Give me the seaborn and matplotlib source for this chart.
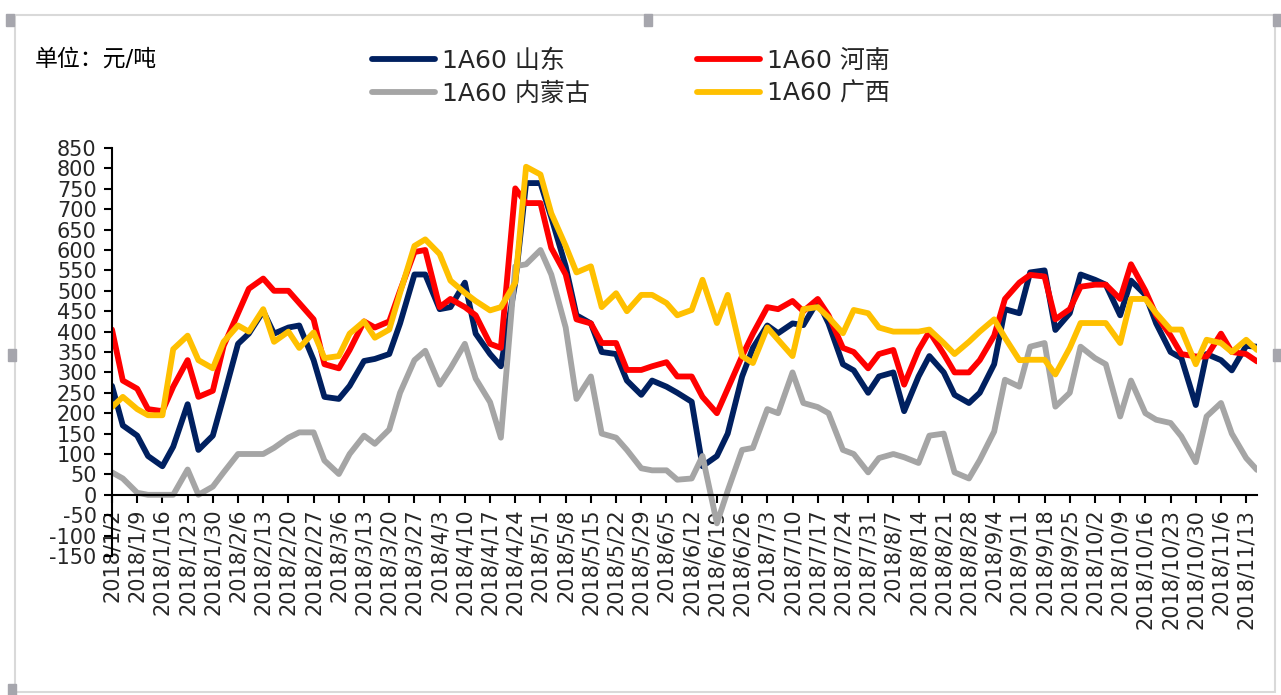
import matplotlib
matplotlib.use("Agg")
import matplotlib.pyplot as plt
from matplotlib.lines import Line2D
from matplotlib.patches import Rectangle
import numpy as np
import pandas as pd
import seaborn as sns

# readings taken on each Tuesday (tick date) and the Friday after it
week_start = pd.date_range("2018-01-02", "2018-11-13", freq="7D")
dates = sorted(list(week_start) + list(week_start + pd.Timedelta(days=3)))

shandong = [267, 170, 145, 95, 70, 118, 222, 110, 145, 240, 370, 395, 450, 395,
            410, 415, 330, 240, 235, 267, 328, 333, 345, 420, 540, 540, 455, 460,
            520, 395, 345, 315, 520, 764, 764, 680, 560, 440, 420, 350, 345, 280,
            245, 280, 265, 250, 228, 70, 95, 150, 290, 360, 415, 396, 420, 416,
            475, 420, 320, 305, 250, 290, 300, 205, 290, 340, 300, 245, 225, 250,
            320, 455, 445, 545, 550, 404, 445, 540, 527, 515, 440, 525, 490, 420,
            350, 335, 220, 345, 330, 305, 365, 363]
henan = [405, 280, 260, 210, 205, 265, 330, 240, 255, 365, 445, 505, 530, 500,
         500, 470, 430, 320, 310, 355, 425, 410, 425, 500, 595, 600, 460, 480,
         460, 440, 370, 360, 751, 715, 715, 605, 540, 430, 420, 372, 372, 306,
         306, 315, 325, 290, 290, 240, 200, 260, 340, 395, 460, 455, 475, 450,
         480, 440, 360, 350, 310, 345, 355, 270, 355, 400, 345, 300, 300, 330,
         390, 480, 520, 539, 535, 430, 455, 510, 515, 515, 480, 565, 500, 440,
         390, 345, 339, 339, 395, 350, 345, 327]
neimenggu = [55, 40, 5, 0, 0, 0, 62, 0, 20, 55, 100, 100, 100, 115,
             140, 153, 153, 84, 51, 100, 145, 125, 160, 250, 330, 353, 270, 310,
             370, 285, 227, 140, 560, 565, 600, 540, 410, 235, 290, 150, 140, 110,
             65, 60, 60, 37, 40, 95, -70, 10, 110, 115, 210, 200, 300, 225,
             215, 200, 110, 100, 55, 90, 100, 92, 78, 145, 150, 55, 40, 85,
             155, 282, 265, 363, 372, 216, 250, 363, 335, 320, 192, 280, 200, 184,
             176, 143, 80, 192, 225, 150, 90, 61]
guangxi = [215, 240, 210, 195, 195, 357, 390, 330, 310, 375, 415, 400, 455, 375,
           400, 360, 398, 335, 340, 395, 425, 385, 405, 495, 610, 626, 590, 525,
           495, 475, 452, 460, 520, 804, 785, 690, 610, 545, 560, 460, 494, 450,
           490, 490, 470, 440, 453, 527, 421, 490, 340, 323, 410, 380, 340, 455,
           460, 435, 396, 453, 445, 410, 400, 400, 400, 405, 372, 345, 375, 400,
           430, 385, 330, 331, 331, 295, 360, 421, 421, 421, 372, 480, 480, 445,
           405, 405, 320, 380, 372, 350, 380, 355]

names = ["1A60 山东", "1A60 河南", "1A60 内蒙古", "1A60 广西"]
colors = ["#002060", "#ff0000", "#a5a5a5", "#ffc000"]

frames = []
for n, v in zip(names, [shandong, henan, neimenggu, guangxi]):
    frames.append(pd.DataFrame({"date": dates, "value": v, "series": n}))
df = pd.concat(frames, ignore_index=True)

sns.set_theme(style="white")
plt.rcParams["font.family"] = ["DejaVu Sans", "Noto Sans CJK SC"]
plt.rcParams["axes.unicode_minus"] = False

W, H = 1281, 695
fig = plt.figure(figsize=(W / 100, H / 100), dpi=100)
ax = fig.add_axes([112 / W, 1 - 556 / H, 1145 / W, 408 / H])

sns.lineplot(data=df, x="date", y="value", hue="series", hue_order=names,
             palette=colors, linewidth=4.2, legend=False, ax=ax)

ax.set_xlim(pd.Timestamp("2018-01-02"), pd.Timestamp("2018-11-16"))
ax.set_ylim(-150, 850)
ax.set_yticks(np.arange(-150, 851, 50))
ax.set_xticks(list(week_start))
ax.set_xticklabels([f"{d.year}/{d.month}/{d.day}" for d in week_start])
ax.set_xlabel("")
ax.set_ylabel("")

for s in ["top", "right"]:
    ax.spines[s].set_visible(False)
ax.spines["bottom"].set_position(("data", 0))
for s in ["left", "bottom"]:
    ax.spines[s].set_color("black")
    ax.spines[s].set_linewidth(1.5)
ax.tick_params(axis="y", direction="out", length=6, width=1.5, color="black",
               labelsize=15, pad=5, left=True)
ax.tick_params(axis="x", direction="out", length=6, width=1.5, color="black",
               labelsize=15, pad=4, bottom=True, labelrotation=90)

order = [0, 2, 1, 3]
handles = [Line2D([0], [0], color=colors[i], lw=4.2) for i in order]
ax.legend(handles, [names[i] for i in order], ncol=2, frameon=False,
          loc="upper left", bbox_to_anchor=(372 / W, 1 - 49 / H),
          bbox_transform=fig.transFigure, fontsize=18, handlelength=2.5,
          handletextpad=0.3, columnspacing=4.3, labelspacing=0.35,
          borderpad=0, borderaxespad=0)

fig.text(35 / W, 1 - 59 / H, "单位：元/吨", fontsize=16.5, va="center",
         ha="left", color="black")

# chart frame and selection handles
fig.add_artist(Rectangle((15 / W, 1 - 692 / H), 1260 / W, 677 / H,
                         transform=fig.transFigure, fill=False,
                         edgecolor="#d9d9d9", lw=1.5))
for hx, hy in [(10, 20), (648, 20), (1277, 20), (12, 355), (1277, 355), (12, 690)]:
    fig.add_artist(Rectangle(((hx - 4) / W, 1 - (hy + 6) / H), 8 / W, 12 / H,
                             transform=fig.transFigure, color="#a6a6ad"))

fig.savefig("out.png", dpi=100)
